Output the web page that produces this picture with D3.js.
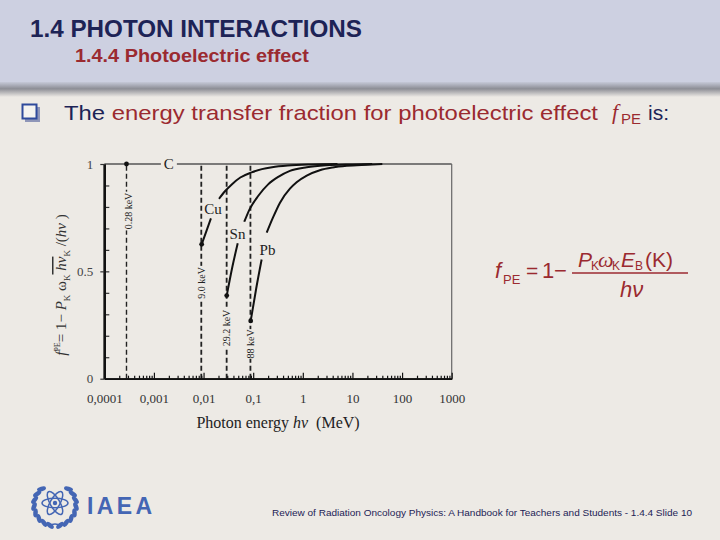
<!DOCTYPE html>
<html><head><meta charset="utf-8">
<script src="https://cdn.jsdelivr.net/npm/d3@7"></script>
<style>html,body{margin:0;padding:0;background:#edeae5;} svg{display:block;}</style>
</head><body>
<svg id="c" width="720" height="540"></svg>
<script>
// ---------- data ----------
const xTickValues = [0.0001, 0.001, 0.01, 0.1, 1, 10, 100, 1000];
const xTickLabels = ["0,0001", "0,001", "0,01", "0,1", "1", "10", "100", "1000"];
const yTickValues = [0, 0.5, 1];
const yTickLabels = ["0", "0.5", "1"];
const yMinorTicks = [0.1, 0.2, 0.3, 0.4, 0.5, 0.6, 0.7, 0.8, 0.9];
const edgeEnergies = [0.00028, 0.009, 0.0292, 0.088];          // MeV, K-edges
const edgeLabels = ["0.28 keV", "9.0 keV", "29.2 keV", "88 keV"];
const edgeDots = [[0.00028, 1], [0.00916, 0.626], [0.0293, 0.387], [0.0891, 0.269]];
const elementNames = ["C", "Cu", "Sn", "Pb"];
const cuLower = [[0.00916, 0.626], [0.0115, 0.69], [0.0141, 0.747]];
const cuUpper = [[0.0205, 0.838], [0.027, 0.873], [0.037, 0.905], [0.055, 0.937], [0.093, 0.961], [0.15, 0.976], [0.24, 0.985], [0.5, 0.993], [1.5, 0.998], [5, 1.0]];
const snLower = [[0.0293, 0.387], [0.038, 0.52], [0.0488, 0.631]];
const snUpper = [[0.0662, 0.731], [0.085, 0.79], [0.127, 0.852], [0.2, 0.905], [0.32, 0.94], [0.55, 0.968], [1.2, 0.985], [3, 0.994], [10, 0.998], [25, 1.0]];
const pbLower = [[0.0891, 0.269], [0.115, 0.42], [0.148, 0.555]];
const pbUpper = [[0.187, 0.68], [0.25, 0.75], [0.347, 0.82], [0.55, 0.885], [0.75, 0.915], [1.2, 0.946], [2.2, 0.971], [4, 0.984], [7.7, 0.992], [20, 0.997], [40, 1.0]];

// ---------- page ----------
const BG = "#edeae5", NAVY = "#1d2356", RED = "#9b2a30", BLUE = "#4466b4";
const svg = d3.select("#c");
const defs = svg.append("defs");
const sh = defs.append("linearGradient").attr("id", "shadow").attr("x1", 0).attr("x2", 0).attr("y1", 0).attr("y2", 1);
sh.append("stop").attr("offset", "0%").attr("stop-color", "#c6c9d8");
sh.append("stop").attr("offset", "45%").attr("stop-color", "#8d8e96");
sh.append("stop").attr("offset", "100%").attr("stop-color", BG);
svg.append("rect").attr("width", 720).attr("height", 540).attr("fill", BG);
svg.append("rect").attr("width", 720).attr("height", 82).attr("fill", "#cdd0e1");
svg.append("rect").attr("y", 82).attr("width", 720).attr("height", 15).attr("fill", "url(#shadow)");

svg.append("text").attr("x", 30).attr("y", 37).attr("font-family", "Liberation Sans, Arial, sans-serif")
  .attr("font-weight", "bold").attr("font-size", 24).attr("fill", NAVY)
  .attr("textLength", 332).attr("lengthAdjust", "spacingAndGlyphs").text("1.4  PHOTON INTERACTIONS");
svg.append("text").attr("x", 75).attr("y", 62).attr("font-family", "Liberation Sans, Arial, sans-serif")
  .attr("font-weight", "bold").attr("font-size", 19).attr("fill", RED)
  .attr("textLength", 234).attr("lengthAdjust", "spacingAndGlyphs").text("1.4.4 Photoelectric effect");

// bullet box
svg.append("rect").attr("x", 25).attr("y", 107).attr("width", 15).attr("height", 15).attr("fill", "#8f96b8");
svg.append("rect").attr("x", 22.5).attr("y", 104.5).attr("width", 14).attr("height", 14).attr("fill", "#f4f3f0")
  .attr("stroke", "#2f4a9c").attr("stroke-width", 2);

const body = svg.append("text").attr("x", 64).attr("y", 120).attr("font-family", "Liberation Sans, Arial, sans-serif")
  .attr("font-size", 21).attr("textLength", 534).attr("lengthAdjust", "spacingAndGlyphs");
body.append("tspan").attr("fill", NAVY).text("The ");
body.append("tspan").attr("fill", RED).text("energy transfer fraction for photoelectric effect");
svg.append("text").attr("x", 612).attr("y", 119).attr("font-family", "Liberation Serif, serif").attr("font-style", "italic")
  .attr("font-size", 22).attr("fill", RED).text("f");
svg.append("text").attr("x", 621).attr("y", 124).attr("font-family", "Liberation Sans, Arial, sans-serif")
  .attr("font-size", 15).attr("fill", RED).text("PE");
svg.append("text").attr("x", 648).attr("y", 120).attr("font-family", "Liberation Sans, Arial, sans-serif")
  .attr("font-size", 21).attr("fill", NAVY).text("is:");

// formula
const fm = svg.append("g").attr("fill", RED).attr("font-family", "Liberation Sans, Arial, sans-serif");
fm.append("text").attr("x", 495).attr("y", 278).attr("font-style", "italic").attr("font-size", 22).text("f");
fm.append("text").attr("x", 503).attr("y", 284).attr("font-size", 13).text("PE");
fm.append("text").attr("x", 526).attr("y", 278).attr("font-size", 21).text("=");
fm.append("text").attr("x", 542).attr("y", 278).attr("font-size", 22).text("1");
fm.append("text").attr("x", 554).attr("y", 278).attr("font-size", 22).text("\u2212");
fm.append("line").attr("x1", 572).attr("x2", 688).attr("y1", 273).attr("y2", 273).attr("stroke", RED).attr("stroke-width", 1.3);
fm.append("text").attr("x", 578).attr("y", 267).attr("font-style", "italic").attr("font-size", 21).text("P");
fm.append("text").attr("x", 591).attr("y", 270).attr("font-size", 12).text("K");
fm.append("text").attr("x", 598).attr("y", 267).attr("font-family", "Liberation Serif, serif").attr("font-style", "italic").attr("font-size", 22).text("\u03c9");
fm.append("text").attr("x", 612).attr("y", 270).attr("font-size", 12).text("K");
fm.append("text").attr("x", 621).attr("y", 267).attr("font-style", "italic").attr("font-size", 21).text("E");
fm.append("text").attr("x", 635).attr("y", 270).attr("font-size", 12).text("B");
fm.append("text").attr("x", 645).attr("y", 267).attr("font-size", 21).text("(K)");
fm.append("text").attr("x", 620).attr("y", 297).attr("font-style", "italic").attr("font-size", 22).text("h\u03bd");

// ---------- chart ----------
const x = d3.scaleLog().domain([1e-4, 1e3]).range([104.3, 451.7]);
const y = d3.scaleLinear().domain([0, 1]).range([378.7, 164]);
const g = svg.append("g");
const serif = "Liberation Serif, Times New Roman, serif";

// frame top & right
g.append("line").attr("x1", x(1e-4)).attr("x2", x(1e3)).attr("y1", y(1)).attr("y2", y(1)).attr("stroke", "#555").attr("stroke-width", 1.6);
g.append("line").attr("x1", x(1e3)).attr("x2", x(1e3)).attr("y1", y(1)).attr("y2", y(0)).attr("stroke", "#666").attr("stroke-width", 1.2);

// dashed edge lines with labels
edgeEnergies.forEach((e, i) => {
  g.append("line").attr("x1", x(e)).attr("x2", x(e)).attr("y1", y(0)).attr("y2", y(1))
    .attr("stroke", "#222").attr("stroke-width", i === 0 ? 1.4 : 1.8).attr("stroke-dasharray", "5,3");
});
const edgeLabelF = [0.781, 0.446, 0.236, 0.162];
edgeLabels.forEach((t, i) => {
  const cx = x(edgeEnergies[i]) + (i === 0 ? 2 : 0), cy = y(edgeLabelF[i]);
  const len = t.length * 4.6 + 2;
  g.append("rect").attr("x", cx - 5).attr("y", cy - len / 2).attr("width", 10).attr("height", len).attr("fill", BG);
  g.append("text").attr("transform", `translate(${cx},${cy}) rotate(-90)`).attr("text-anchor", "middle")
    .attr("dominant-baseline", "central").attr("font-family", serif).attr("font-size", 10).attr("fill", "#222").text(t);
});

// curves
const line = d3.line().x(d => x(d[0])).y(d => y(d[1])).curve(d3.curveMonotoneX);
[cuLower, cuUpper, snLower, snUpper, pbLower, pbUpper].forEach(s => {
  g.append("path").attr("d", line(s)).attr("fill", "none").attr("stroke", "#111").attr("stroke-width", 2);
});
edgeDots.forEach(d => g.append("circle").attr("cx", x(d[0])).attr("cy", y(d[1])).attr("r", 2.4).attr("fill", "#111"));

// element labels
const labelPos = [[0.002, 1], [0.0155, 0.79], [0.0483, 0.672], [0.194, 0.599]];
elementNames.forEach((n, i) => {
  const cx = x(labelPos[i][0]), cy = y(labelPos[i][1]);
  if (i === 0) g.append("rect").attr("x", cx - 8).attr("y", cy - 3).attr("width", 16).attr("height", 6).attr("fill", BG);
  g.append("text").attr("x", cx).attr("y", cy).attr("text-anchor", "middle").attr("dominant-baseline", "central")
    .attr("font-family", serif).attr("font-size", 15).attr("fill", "#222").text(n);
});

// axes
const minor = [];
for (let k = -4; k < 3; k++) for (let m = 2; m < 10; m++) minor.push(m * Math.pow(10, k));
const xMinor = g.append("g").attr("transform", `translate(0,${y(0)})`)
  .call(d3.axisBottom(x).tickValues(minor).tickFormat("").tickSizeInner(-3).tickSizeOuter(0));
const xAxis = g.append("g").attr("transform", `translate(0,${y(0)})`)
  .call(d3.axisBottom(x).tickValues(xTickValues).tickFormat((d, i) => xTickLabels[i]).tickSizeInner(-6).tickSizeOuter(0).tickPadding(15));
[xMinor, xAxis].forEach(a => { a.select(".domain").attr("stroke", "#111").attr("stroke-width", 1.8); a.selectAll(".tick line").attr("stroke", "#111").attr("stroke-width", 1.2); });
xAxis.selectAll("text").attr("font-family", serif).attr("font-size", 13).attr("fill", "#333");

const yMinor = g.append("g").attr("transform", `translate(${x(1e-4)},0)`)
  .call(d3.axisLeft(y).tickValues(yMinorTicks).tickFormat("").tickSizeInner(-5).tickSizeOuter(0));
const yAxis = g.append("g").attr("transform", `translate(${x(1e-4)},0)`)
  .call(d3.axisLeft(y).tickValues(yTickValues).tickFormat((d, i) => yTickLabels[i]).tickSizeInner(4).tickSizeOuter(0).tickPadding(7));
[yMinor, yAxis].forEach(a => { a.select(".domain").attr("stroke", "#111").attr("stroke-width", 2.4); a.selectAll(".tick line").attr("stroke", "#333").attr("stroke-width", 1.2); });
yAxis.selectAll("text").attr("font-family", serif).attr("font-size", 13).attr("fill", "#444");

// axis titles
const xt = g.append("text").attr("x", 278).attr("y", 428).attr("text-anchor", "middle").attr("font-family", serif).attr("font-size", 16).attr("fill", "#222");
xt.append("tspan").text("Photon energy ");
xt.append("tspan").attr("font-style", "italic").text("h\u03bd");
xt.append("tspan").text("\u00a0\u00a0(MeV)");

const yt = g.append("text").attr("transform", "translate(66,285) rotate(-90)").attr("text-anchor", "middle")
  .attr("font-family", serif).attr("font-size", 15).attr("fill", "#333");
yt.append("tspan").attr("font-style", "italic").text("f");
yt.append("tspan").attr("font-size", 8).attr("dy", -6).text("PE");
yt.append("tspan").attr("dy", 6).text("= 1\u2212 ");
yt.append("tspan").attr("font-style", "italic").text("P");
yt.append("tspan").attr("font-size", 9).attr("dy", 4).text("K");
yt.append("tspan").attr("dy", -4).text(" \u03c9");
yt.append("tspan").attr("font-size", 9).attr("dy", 4).text("K");
yt.append("tspan").attr("dy", -4).attr("font-style", "italic").attr("text-decoration", "overline").text(" h\u03bd");
yt.append("tspan").attr("font-size", 9).attr("dy", 4).text("K");
yt.append("tspan").attr("dy", -4).text(" /(");
yt.append("tspan").attr("font-style", "italic").text("h\u03bd");
yt.append("tspan").text(" )");

// ---------- IAEA logo ----------
const logo = svg.append("g").attr("transform", "translate(55,505)").attr("fill", "none").attr("stroke", BLUE);
[0, 60, -60].forEach(a => logo.append("ellipse").attr("rx", 13).attr("ry", 4.8).attr("transform", `translate(0,-2) rotate(${a})`).attr("stroke-width", 1.5));
logo.append("circle").attr("cx", 0).attr("cy", -2).attr("r", 2.2).attr("fill", BLUE).attr("stroke", "none");
[-1, 1].forEach(s => {
  for (let k = 0; k < 8; k++) {
    const th = 40 + k * 18;
    const ang = th * Math.PI / 180;
    const px = s * 21 * Math.sin(ang), py = -21 * Math.cos(ang);
    logo.append("ellipse").attr("rx", 2.3).attr("ry", 4.6).attr("fill", BLUE).attr("stroke", "none")
      .attr("transform", `translate(${px},${py}) rotate(${s * (th + 90 - 25)})`);
  }
});
logo.append("path").attr("d", "M-6,21 Q0,17 6,21").attr("stroke-width", 1.6);
svg.append("text").attr("x", 87).attr("y", 514).attr("font-family", "Liberation Sans, Arial, sans-serif").attr("font-weight", "bold")
  .attr("font-size", 23).attr("fill", BLUE).attr("textLength", 65).attr("lengthAdjust", "spacing").text("IAEA");

// footer
svg.append("text").attr("x", 272).attr("y", 516).attr("font-family", "Liberation Sans, Arial, sans-serif")
  .attr("font-size", 9.5).attr("fill", NAVY).attr("textLength", 420).attr("lengthAdjust", "spacingAndGlyphs")
  .text("Review of Radiation Oncology Physics: A Handbook for Teachers and Students - 1.4.4 Slide 10");
</script>
</body></html>
